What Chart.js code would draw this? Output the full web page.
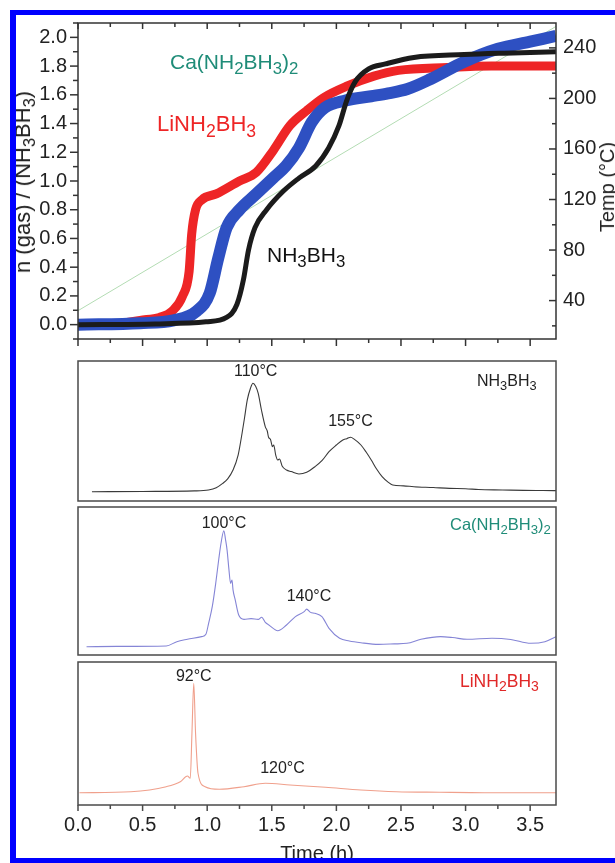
<!DOCTYPE html>
<html>
<head>
<meta charset="utf-8">
<script src="https://cdn.jsdelivr.net/npm/chart.js@4.4.1/dist/chart.umd.min.js"></script>
<style>
html, body { margin: 0; padding: 0; background: #fff; width: 615px; height: 863px; overflow: hidden; }
#fig { position: relative; width: 615px; height: 863px; overflow: hidden; background: #fff;
       font-family: "Liberation Sans", Arial, Helvetica, sans-serif; color: #222; }
#fig canvas { position: absolute; left: 0; }
.lbl { position: absolute; line-height: 1; white-space: nowrap; z-index: 3; }
.c { transform: translateX(-50%); }
.lbl sub { font-size: 0.8em; vertical-align: baseline; position: relative; top: 0.32em; line-height: 0; }
.rot { position: absolute; line-height: 1; white-space: nowrap; z-index: 3;
       transform: translate(-50%, -50%) rotate(-90deg); }
.rot sub { font-size: 0.75em; vertical-align: baseline; position: relative; top: 0.3em; line-height: 0; }
.bar { position: absolute; background: #0000ff; z-index: 5; }
</style>
</head>
<body>
<div id="fig">
  <canvas id="cTop" width="615" height="362" style="top:0px"></canvas>
  <canvas id="cAB" width="615" height="152" style="top:355px"></canvas>
  <canvas id="cCa" width="615" height="156" style="top:503px"></canvas>
  <canvas id="cLi" width="615" height="205" style="top:658px"></canvas>

  <!-- axis titles -->
  <div class="rot" style="left:23px; top:182px; font-size:22px;">n (gas) / (NH<sub>3</sub>BH<sub>3</sub>)</div>
  <div class="rot" style="left:607px; top:187px; font-size:20px;">Temp (°C)</div>

  <!-- top panel labels -->
  <div class="lbl" style="left:170px; top:50.6px; font-size:21px; color:#1f8c78;">Ca(NH<sub>2</sub>BH<sub>3</sub>)<sub>2</sub></div>
  <div class="lbl" style="left:157px; top:113px; font-size:22px; color:#ee2526;">LiNH<sub>2</sub>BH<sub>3</sub></div>
  <div class="lbl" style="left:267px; top:244px; font-size:21px; color:#111;">NH<sub>3</sub>BH<sub>3</sub></div>

  <!-- MS panels -->
  <div class="lbl c" style="left:255.7px; top:363px; font-size:16px;">110°C</div>
  <div class="lbl c" style="left:350.5px; top:413px; font-size:16px;">155°C</div>
  <div class="lbl" style="left:477px; top:373px; font-size:16px;">NH<sub>3</sub>BH<sub>3</sub></div>

  <div class="lbl c" style="left:224px; top:514.6px; font-size:16px;">100°C</div>
  <div class="lbl c" style="left:309px; top:588px; font-size:16px;">140°C</div>
  <div class="lbl" style="left:450px; top:516px; font-size:16.5px; color:#1f8c78;">Ca(NH<sub>2</sub>BH<sub>3</sub>)<sub>2</sub></div>

  <div class="lbl c" style="left:193.8px; top:668px; font-size:16px;">92°C</div>
  <div class="lbl c" style="left:282.5px; top:759.6px; font-size:16px;">120°C</div>
  <div class="lbl" style="left:460px; top:672.7px; font-size:17.5px; color:#e02828;">LiNH<sub>2</sub>BH<sub>3</sub></div>

  <!-- blue frame: top, left and bottom only -->
  <div class="bar" style="left:10px; top:10px; width:605px; height:5px;"></div>
  <div class="bar" style="left:10px; top:10px; width:6px; height:853px;"></div>
  <div class="bar" style="left:10px; top:858px; width:605px; height:5px;"></div>
</div>

<script>
// gas released, n(gas)/(NH3BH3), against time (h)
const abTime = [0, 0.6, 0.99, 1.15, 1.23, 1.28, 1.32, 1.37, 1.46, 1.59, 1.71, 1.84, 1.94, 2.02, 2.08, 2.145, 2.25, 2.38, 2.6, 2.99, 3.3, 3.7];
const abGas  = [0, 0.005, 0.02, 0.05, 0.14, 0.31, 0.52, 0.675, 0.80, 0.93, 1.02, 1.105, 1.23, 1.385, 1.56, 1.69, 1.78, 1.815, 1.86, 1.88, 1.89, 1.90];

const caTime = [0, 0.48, 0.74, 0.92, 1.02, 1.085, 1.15, 1.25, 1.38, 1.51, 1.61, 1.71, 1.81, 1.91, 2.07, 2.27, 2.4, 2.55, 2.73, 2.99, 3.25, 3.5, 3.7];
const caGas  = [0, 0.01, 0.03, 0.095, 0.22, 0.46, 0.675, 0.80, 0.91, 1.02, 1.105, 1.23, 1.41, 1.51, 1.56, 1.59, 1.61, 1.64, 1.71, 1.83, 1.92, 1.97, 2.01];

const liTime = [0, 0.3, 0.48, 0.63, 0.73, 0.81, 0.86, 0.88, 0.91, 0.96, 1.07, 1.25, 1.38, 1.51, 1.64, 1.77, 1.9, 2.08, 2.29, 2.48, 2.86, 3.2, 3.7];
const liGas  = [0, 0.005, 0.03, 0.05, 0.095, 0.2, 0.37, 0.63, 0.80, 0.87, 0.91, 1.0, 1.06, 1.21, 1.385, 1.49, 1.58, 1.66, 1.73, 1.77, 1.79, 1.80, 1.80];

// furnace temperature (right axis, °C)
const rampTime = [0, 3.7];
const rampTemp = [32, 257];

// mass spec traces, arbitrary units (0-100 = panel height)
const abMsTime = [0.108, 0.5, 0.9, 1.01, 1.07, 1.12, 1.16, 1.20, 1.24, 1.27, 1.29, 1.31, 1.335, 1.354, 1.375, 1.395, 1.42, 1.45, 1.465, 1.475, 1.49, 1.505, 1.515, 1.53, 1.546, 1.56, 1.58, 1.614, 1.65, 1.71, 1.77, 1.834, 1.89, 1.943, 2.0, 2.05, 2.08, 2.11, 2.14, 2.19, 2.23, 2.27, 2.31, 2.354, 2.40, 2.436, 2.52, 2.60, 2.75, 2.875, 3.0, 3.1, 3.285, 3.45, 3.6, 3.70];
const abMs     = [6.6, 6.8, 7.2, 7.9, 9.5, 12.6, 16, 22.1, 33, 48.4, 60, 72.1, 80.5, 84.1, 82, 76.9, 65, 53, 50, 45.5, 44, 38.8, 40, 33, 29.3, 30, 25, 22.1, 21, 19.3, 20.5, 24.5, 29, 35.2, 40, 43.6, 44.5, 45.5, 44, 40, 35, 29.3, 23, 17.4, 13.5, 11.4, 10.8, 10.2, 9.6, 9.0, 8.8, 8.2, 7.9, 7.6, 7.5, 7.4];

const caMsTime = [0.066, 0.3, 0.683, 0.765, 0.847, 0.957, 0.99, 1.011, 1.04, 1.066, 1.09, 1.107, 1.129, 1.142, 1.154, 1.168, 1.181, 1.192, 1.2, 1.217, 1.244, 1.285, 1.34, 1.395, 1.422, 1.45, 1.477, 1.546, 1.614, 1.683, 1.751, 1.77, 1.8, 1.834, 1.888, 1.943, 2.025, 2.1, 2.19, 2.327, 2.45, 2.546, 2.655, 2.806, 2.9, 3.012, 3.204, 3.35, 3.505, 3.614, 3.70];
const caMs     = [5.6, 5.8, 6.1, 9.0, 10.6, 12.4, 14, 21.4, 33, 48.4, 65, 75.5, 84, 78, 70.9, 58, 48.4, 50.7, 44, 37.2, 27, 24.1, 24.6, 24.1, 25.5, 22, 20.3, 16.4, 20.3, 25.9, 29.3, 31, 28.8, 28.2, 25.9, 18, 11.3, 9.5, 8.3, 7.2, 7.5, 7.9, 10.6, 12.4, 11.8, 10.6, 11.3, 10.5, 7.9, 9, 12.4];

const liMsTime = [0.011, 0.409, 0.683, 0.792, 0.847, 0.869, 0.882, 0.896, 0.910, 0.929, 0.984, 1.094, 1.285, 1.45, 1.641, 1.916, 2.19, 2.464, 2.8, 3.146, 3.5, 3.70];
const liMs     = [8.6, 9.3, 12.8, 16.3, 20.3, 18.7, 50.1, 85.1, 50.1, 22.2, 12.8, 11, 12.8, 15.2, 14, 12.4, 10.5, 9.3, 8.9, 8.6, 8.6, 8.6];

// labelled ticks
const gasTicks  = [0, 0.2, 0.4, 0.6, 0.8, 1.0, 1.2, 1.4, 1.6, 1.8, 2.0];
const tempTicks = [40, 80, 120, 160, 200, 240];
const timeTicks = [0, 0.5, 1.0, 1.5, 2.0, 2.5, 3.0, 3.5];

const FONT = "'Liberation Sans', Arial, Helvetica, sans-serif";
Chart.defaults.font.family = FONT;
Chart.defaults.color = '#222';
Chart.defaults.animation = false;
Chart.defaults.events = [];
Chart.defaults.plugins.legend.display = false;
Chart.defaults.plugins.tooltip.enabled = false;
Chart.defaults.elements.point.radius = 0;

const pts = (xs, ys) => xs.map((x, i) => ({ x: x, y: ys[i] }));
const inList = (list, v) => list.some(t => Math.abs(t - v) < 1e-6);

// box round the plot area plus major/minor tick marks on chosen edges
function frameTicks(spec) {
  return {
    id: 'frameTicks',
    afterDatasetsDraw(chart) {
      const ctx = chart.ctx, a = chart.chartArea;
      ctx.save();
      ctx.strokeStyle = spec.color;
      ctx.lineWidth = spec.width;
      ctx.strokeRect(a.left, a.top, a.right - a.left, a.bottom - a.top);
      (spec.ticks || []).forEach(tk => {
        const s = chart.scales[tk.axis];
        s.ticks.forEach(t => {
          const len = inList(tk.majors, t.value) ? tk.major : tk.minor;
          const d = tk.out ? len : -len;
          const p = s.getPixelForValue(t.value);
          ctx.beginPath();
          if (tk.edge === 'left')   { ctx.moveTo(a.left, p);   ctx.lineTo(a.left - d, p); }
          if (tk.edge === 'right')  { ctx.moveTo(a.right, p);  ctx.lineTo(a.right + d, p); }
          if (tk.edge === 'bottom') { ctx.moveTo(p, a.bottom); ctx.lineTo(p, a.bottom + d); }
          if (tk.edge === 'top')    { ctx.moveTo(p, a.top);    ctx.lineTo(p, a.top - d); }
          ctx.stroke();
        });
      });
      ctx.restore();
    }
  };
}

const noGrid = { display: false, drawTicks: false };

// --- gas release panel ---
new Chart(document.getElementById('cTop'), {
  type: 'line',
  data: {
    datasets: [
      { data: pts(abTime, abGas), borderColor: '#1b1b1b', borderWidth: 5, cubicInterpolationMode: 'monotone', borderJoinStyle: 'round' },
      { data: pts(caTime, caGas), borderColor: '#2e50c2', borderWidth: 12, cubicInterpolationMode: 'monotone', borderJoinStyle: 'round' },
      { data: pts(liTime, liGas), borderColor: '#ee2526', borderWidth: 9, cubicInterpolationMode: 'monotone', borderJoinStyle: 'round' },
      { data: pts(rampTime, rampTemp), yAxisID: 'y1', borderColor: '#b3dcb3', borderWidth: 1 }
    ]
  },
  options: {
    responsive: false,
    devicePixelRatio: 1,
    layout: { padding: { top: 12.5, left: 0, right: 0, bottom: 0 } },
    scales: {
      x: {
        type: 'linear', min: 0, max: 3.7,
        ticks: { display: false, stepSize: 0.25, includeBounds: false },
        grid: noGrid, border: { display: false },
        afterFit: s => { s.height = 8.5; }
      },
      y: {
        position: 'left', min: -0.1, max: 2.1,
        ticks: {
          stepSize: 0.1, autoSkip: false, padding: 11, color: '#222',
          font: { size: 20 },
          callback: v => inList(gasTicks, v) ? v.toFixed(1) : ''
        },
        grid: noGrid, border: { display: false },
        afterFit: s => { s.width = 78; }
      },
      y1: {
        position: 'right', min: 9.6, max: 259.7,
        ticks: {
          stepSize: 20, includeBounds: false, autoSkip: false, padding: 7, color: '#222',
          font: { size: 20 },
          callback: v => inList(tempTicks, v) ? String(v) : ''
        },
        grid: noGrid, border: { display: false },
        afterFit: s => { s.width = 59; }
      }
    }
  },
  plugins: [frameTicks({
    color: '#333', width: 1.5,
    ticks: [
      { axis: 'y',  edge: 'left',   out: true,  majors: gasTicks,  major: 8, minor: 5 },
      { axis: 'y1', edge: 'right',  out: false, majors: tempTicks, major: 7, minor: 4 },
      { axis: 'x',  edge: 'bottom', out: true,  majors: timeTicks, major: 7, minor: 4 },
      { axis: 'x',  edge: 'top',    out: false, majors: timeTicks, major: 6, minor: 4 }
    ]
  })]
});

// --- mass spec panels ---
function msChart(id, time, vals, color, padTop, padBottom, withAxis) {
  const x = withAxis ? {
    type: 'linear', min: 0, max: 3.7,
    ticks: {
      stepSize: 0.25, includeBounds: false, autoSkip: false, maxRotation: 0, padding: 8,
      color: '#222', font: { size: 20 },
      callback: v => inList(timeTicks, v) ? v.toFixed(1) : ''
    },
    title: { display: true, text: 'Time (h)', color: '#222', font: { size: 20, lineHeight: 1 }, padding: { top: 0, bottom: -1 } },
    grid: noGrid, border: { display: false },
    afterFit: s => { s.height = 58; }
  } : { type: 'linear', min: 0, max: 3.7, display: false };

  new Chart(document.getElementById(id), {
    type: 'line',
    data: { datasets: [{ data: pts(time, vals), borderColor: color, borderWidth: 1.1, cubicInterpolationMode: 'monotone' }] },
    options: {
      responsive: false,
      devicePixelRatio: 1,
      layout: { padding: { top: padTop, bottom: padBottom, left: 78, right: 59 } },
      scales: { x: x, y: { min: 0, max: 100, display: false } }
    },
    plugins: [frameTicks({
      color: '#4a4a4a', width: 1.5,
      ticks: withAxis ? [{ axis: 'x', edge: 'bottom', out: true, majors: timeTicks, major: 6, minor: 4 }] : []
    })]
  });
}

msChart('cAB', abMsTime, abMs, '#3a3a3a', 6, 6, false);
msChart('cCa', caMsTime, caMs, '#8585d6', 4, 4, false);
msChart('cLi', liMsTime, liMs, '#f0a08c', 4, 0, true);
</script>
</body>
</html>
